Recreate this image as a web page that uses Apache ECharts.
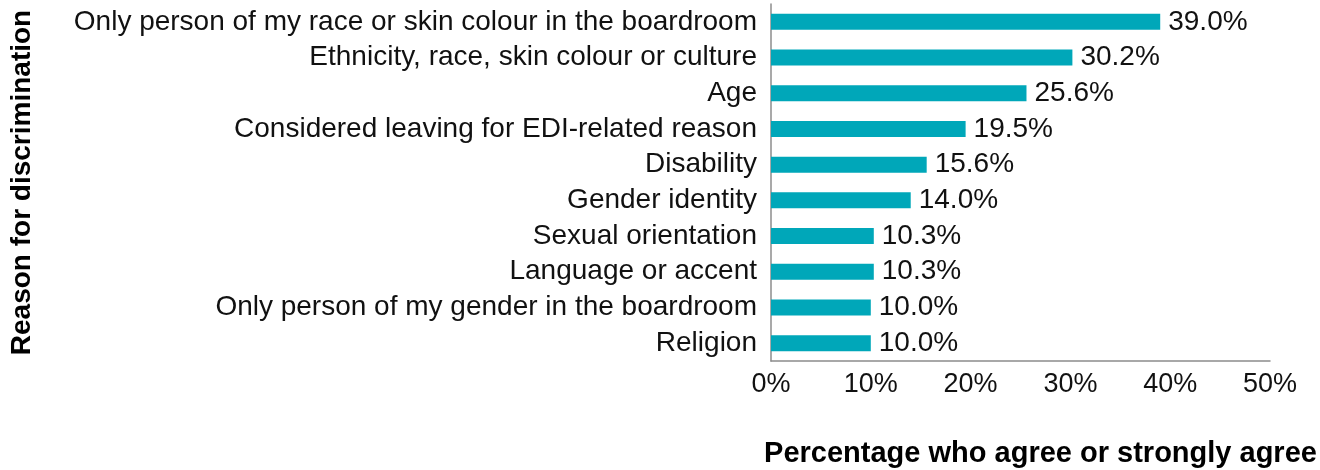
<!DOCTYPE html>
<html>
<head>
<meta charset="utf-8">
<script src="https://cdn.jsdelivr.net/npm/echarts@6/dist/echarts.min.js"></script>
<style>
  html, body { margin: 0; padding: 0; background: #fff; }
  #chart { width: 1320px; height: 470px; }
</style>
</head>
<body>
<div id="chart"></div>
<script>
// categories listed top to bottom
const reasons = [
  "Only person of my race or skin colour in the boardroom",
  "Ethnicity, race, skin colour or culture",
  "Age",
  "Considered leaving for EDI-related reason",
  "Disability",
  "Gender identity",
  "Sexual orientation",
  "Language or accent",
  "Only person of my gender in the boardroom",
  "Religion"
];
const agreePct = [39.0, 30.2, 25.6, 19.5, 15.6, 14.0, 10.3, 10.3, 10.0, 10.0];

const chart = echarts.init(document.getElementById("chart"));
const font = "'Liberation Sans', Arial, sans-serif";

chart.setOption({
  animation: false,
  grid: { left: 771, right: 50, top: 4, bottom: 109, outerBoundsMode: "none" },
  xAxis: {
    type: "value",
    min: 0,
    max: 50,
    interval: 10,
    axisLine: { show: true, lineStyle: { color: "#8c8c8c", width: 1.5 } },
    axisTick: { show: false },
    splitLine: { show: false },
    axisLabel: {
      formatter: "{value}%",
      color: "#111",
      fontSize: 27,
      fontFamily: font,
      margin: 10
    },
    name: "Percentage who agree or strongly agree",
    nameLocation: "middle",
    nameGap: 78,
    nameTextStyle: {
      color: "#000",
      fontSize: 29,
      fontWeight: "bold",
      fontFamily: font,
      padding: [0, 0, 0, 40]
    }
  },
  yAxis: {
    type: "category",
    inverse: true,
    data: reasons,
    axisLine: { show: true, lineStyle: { color: "#8c8c8c", width: 1.5 } },
    axisTick: { show: false },
    axisLabel: {
      interval: 0,
      color: "#111",
      fontSize: 28,
      fontFamily: font,
      margin: 14
    },
    name: "Reason for discrimination",
    nameLocation: "middle",
    nameGap: 735,
    nameRotate: 90,
    nameTextStyle: {
      color: "#000",
      fontSize: 28,
      fontWeight: "bold",
      fontFamily: font
    }
  },
  series: [
    {
      type: "bar",
      data: agreePct,
      barWidth: 16,
      itemStyle: { color: "#00a7b9" },
      label: {
        show: true,
        position: "right",
        distance: 8,
        color: "#111",
        fontSize: 28,
        fontFamily: font,
        formatter: p => p.value.toFixed(1) + "%"
      }
    }
  ]
});
</script>
</body>
</html>
